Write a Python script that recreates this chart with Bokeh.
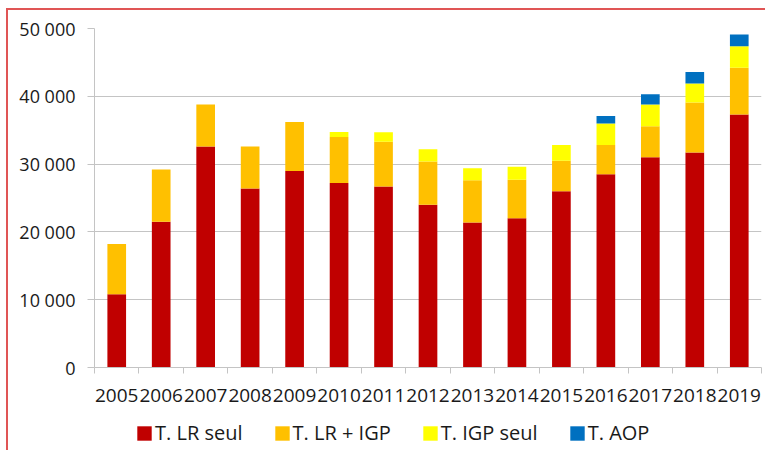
from bokeh.plotting import figure
from bokeh.layouts import column
from bokeh.models import ColumnDataSource, FixedTicker, Legend, LegendItem, Range1d
from bokeh.embed import file_html
from bokeh.resources import INLINE

years = ["2005", "2006", "2007", "2008", "2009", "2010", "2011", "2012",
         "2013", "2014", "2015", "2016", "2017", "2018", "2019"]
lr_seul = [10800, 21500, 32600, 26400, 29000, 27200, 26700, 24000,
           21400, 22000, 26000, 28500, 31000, 31700, 37300]
lr_igp = [7400, 7700, 6200, 6200, 7200, 6800, 6600, 6400,
          6200, 5700, 4500, 4300, 4600, 7400, 6900]
igp_seul = [0, 0, 0, 0, 0, 750, 1400, 1800,
            1800, 1900, 2300, 3200, 3200, 2800, 3200]
aop = [0, 0, 0, 0, 0, 0, 0, 0,
       0, 0, 0, 1100, 1500, 1700, 1700]
y_ticks = [0, 10000, 20000, 30000, 40000, 50000]
y_tick_labels = ["0", "10 000", "20 000", "30 000", "40 000", "50 000"]
series_names = ["T. LR seul", "T. LR + IGP", "T. IGP seul", "T. AOP"]
series_keys = ["lr_seul", "lr_igp", "igp_seul", "aop"]
colors = ["#C00000", "#FFC000", "#FFFF00", "#0070C0"]

FONT = "Open Sans"
TEXT = "#1a1a1a"
GRID = "#c4c4c4"

n = len(years)
xpos = [i + 0.5 for i in range(n)]
source = ColumnDataSource(dict(x=xpos, lr_seul=lr_seul, lr_igp=lr_igp,
                               igp_seul=igp_seul, aop=aop))

p = figure(width=757, height=402, output_backend="svg", toolbar_location=None,
           x_range=Range1d(0, n), y_range=Range1d(0, 50000),
           min_border_left=86, min_border_right=4, min_border_top=18,
           min_border_bottom=45)
p.outline_line_color = None

renderers = p.vbar_stack(series_keys, x="x", width=0.42, source=source,
                         fill_color=colors, line_color=None)

# y axis
p.yaxis.ticker = FixedTicker(ticks=y_ticks)
p.yaxis.major_label_overrides = {t: l for t, l in zip(y_ticks, y_tick_labels)}
p.yaxis.axis_line_color = GRID
p.yaxis.major_tick_line_color = GRID
p.yaxis.major_tick_out = 7
p.yaxis.major_tick_in = 0
p.yaxis.minor_tick_line_color = None
p.yaxis.major_label_standoff = 12
p.yaxis.major_label_text_font = FONT
p.yaxis.major_label_text_font_size = "18px"
p.yaxis.major_label_text_color = TEXT

# x axis: labels at bar centers, tick marks at category boundaries
p.xaxis.ticker = FixedTicker(ticks=xpos, minor_ticks=list(range(n + 1)))
p.xaxis.major_label_overrides = {x: y for x, y in zip(xpos, years)}
p.xaxis.axis_line_color = GRID
p.xaxis.major_tick_line_color = None
p.xaxis.minor_tick_line_color = GRID
p.xaxis.minor_tick_out = 6
p.xaxis.minor_tick_in = 0
p.xaxis.major_label_standoff = 15
p.xaxis.major_label_text_font = FONT
p.xaxis.major_label_text_font_size = "19px"
p.xaxis.major_label_text_color = TEXT

p.xgrid.grid_line_color = None
p.ygrid.grid_line_color = GRID

# legend strip below the chart (swatch renderers sit outside the visible range)
pl = figure(width=757, height=38, output_backend="svg", toolbar_location=None,
            x_range=Range1d(0, 1), y_range=Range1d(0, 1),
            min_border_left=0, min_border_right=0, min_border_top=0,
            min_border_bottom=0)
pl.axis.visible = False
pl.grid.visible = False
pl.outline_line_color = None
swatches = [pl.vbar(x=[0.5], top=[-1], bottom=[-2], width=0.1,
                    fill_color=c, line_color=None)
            for c in colors]
legend = Legend(items=[LegendItem(label=nm, renderers=[r])
                       for nm, r in zip(series_names, swatches)],
                orientation="horizontal", location=(41, 4),
                glyph_width=18, glyph_height=18, label_standoff=2,
                label_height=18, spacing=30, padding=0, margin=0,
                label_text_font=FONT, label_text_font_size="20px",
                label_text_color=TEXT, border_line_color=None,
                background_fill_alpha=0)
pl.add_layout(legend)

layout = column(p, pl, spacing=0)
layout.styles = {"margin-left": "6px", "margin-top": "8px",
                 "border-left": "2px solid #e05555",
                 "border-top": "2px solid #e05555"}

open("out.html", "w").write(file_html(layout, INLINE))
